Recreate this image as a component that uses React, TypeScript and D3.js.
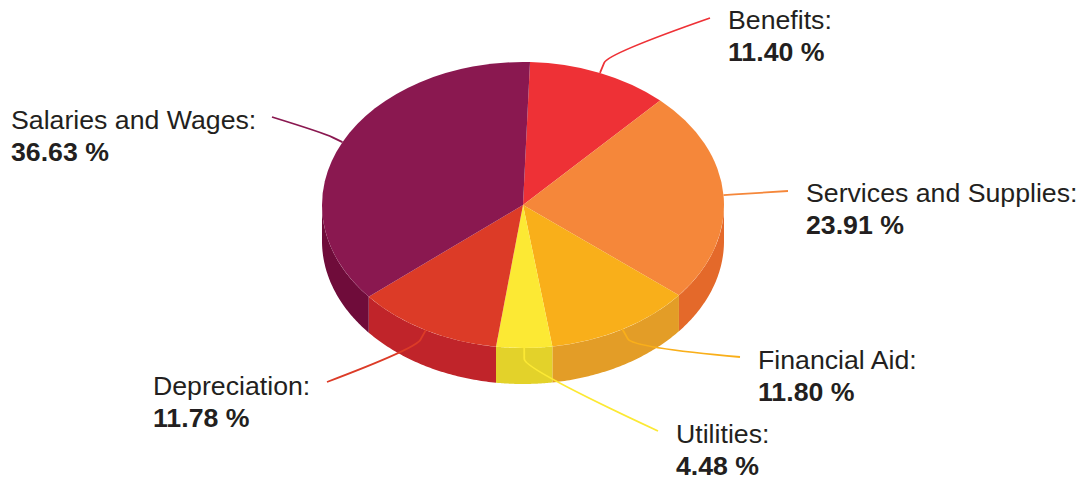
import React from 'react';
import * as d3 from 'd3';

// chart data
const categories = ['Benefits', 'Services and Supplies', 'Financial Aid', 'Utilities', 'Depreciation', 'Salaries and Wages'];
const values = [11.40, 23.91, 11.80, 4.48, 11.78, 36.63];
const valueLabels = ['11.40 %', '23.91 %', '11.80 %', '4.48 %', '11.78 %', '36.63 %'];
const topColors = ['#EE3136', '#F5873A', '#F9AF1A', '#FCE934', '#DC3B27', '#8A1850'];
const sideColors = ['#C9242A', '#E4692A', '#E39D27', '#E3D22A', '#C0242A', '#6F0C3A'];

// label layout: text anchor point + where the leader line ends
const labelLayout = [
  { x: 728, y: 29, ex: 710, ey: 18 },
  { x: 806, y: 202, ex: 788, ey: 191 },
  { x: 758, y: 369, ex: 740, ey: 357 },
  { x: 676, y: 443, ex: 658, ey: 431 },
  { x: 153, y: 395, ex: 327, ey: 382 },
  { x: 11, y: 129, ex: 272, ey: 117 },
];

const W = 1083;
const H = 481;
const cx = 523;
const cy = 205;
const rx = 201;
const ry = 143;
const depth = 36;
const offset = (2 * Math.PI) / 180;

const px = (t: number, k = 0) => cx + (rx + k) * Math.sin(t);
const py = (t: number, k = 0) => cy - (ry + k) * Math.cos(t);

export default function App() {
  const pie = d3.pie<number>().sort(null).startAngle(offset).endAngle(offset + 2 * Math.PI);
  const arcs = pie(values);

  const topArc = d3.arc<d3.PieArcDatum<number>>().innerRadius(0).outerRadius(rx);

  const sideArea = d3.area<number>()
    .x(t => px(t))
    .y0(t => py(t))
    .y1(t => py(t) + depth);

  // only the front half of the wall is visible
  const sides = arcs.map((a, i) => {
    const a0 = Math.max(a.startAngle, Math.PI / 2);
    const a1 = Math.min(a.endAngle, (3 * Math.PI) / 2);
    if (a0 >= a1) return null;
    const n = 60;
    const ts = d3.range(n + 1).map(j => a0 + ((a1 - a0) * j) / n);
    return <path key={'s' + i} d={sideArea(ts) || ''} fill={sideColors[i]} />;
  });

  const leaders = arcs.map((a, i) => {
    const t = (a.startAngle + a.endAngle) / 2;
    const sx = px(t), sy = py(t);
    const bx = px(t, 11), by = py(t, 11);
    const l = labelLayout[i];
    const p = d3.path();
    p.moveTo(sx, sy);
    p.lineTo(bx, by);
    const dx = bx - sx, dy = by - sy;
    p.quadraticCurveTo(bx + dx * 0.9, by + dy * 0.9, l.ex, l.ey);
    return (
      <path key={'l' + i} d={p.toString()} fill="none" stroke={topColors[i]} strokeWidth={1.8} />
    );
  });

  return (
    <svg
      width={W}
      height={H}
      style={{ position: 'absolute', left: 0, top: 0, background: '#fff' }}
      fontFamily="'Liberation Sans', Arial, sans-serif"
    >
      <g>{sides}</g>
      <g transform={`translate(${cx},${cy}) scale(1,${ry / rx})`}>
        {arcs.map((a, i) => (
          <path key={'t' + i} d={topArc(a) || ''} fill={topColors[i]} />
        ))}
      </g>
      <g>{leaders}</g>
      <g fill="#231F20" fontSize={26.7}>
        {categories.map((c, i) => (
          <g key={'lab' + i}>
            <text x={labelLayout[i].x} y={labelLayout[i].y}>{c}:</text>
            <text x={labelLayout[i].x} y={labelLayout[i].y + 32} fontWeight="bold">{valueLabels[i]}</text>
          </g>
        ))}
      </g>
    </svg>
  );
}
